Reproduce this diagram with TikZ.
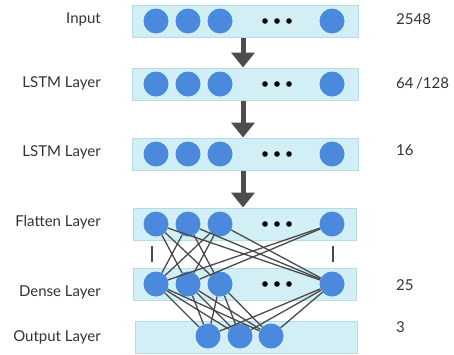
\documentclass[tikz,border=0pt]{standalone}
\usepackage{fontspec}
\setmainfont{Lato}
\usetikzlibrary{arrows.meta}
\definecolor{barfill}{HTML}{D2EFF5}
\definecolor{barline}{HTML}{B6DCE8}
\definecolor{unit}{HTML}{4A89DC}
\definecolor{flow}{HTML}{4D4D4D}
\definecolor{wire}{HTML}{4A4A4A}
\tikzset{
  bar/.style={rectangle, fill=barfill, draw=barline, line width=1pt,
    minimum height=32pt, inner sep=0pt},
  neuron/.style={circle, fill=unit, minimum size=25pt, inner sep=0pt},
  dot/.style={circle, fill=black, minimum size=5.6pt, inner sep=0pt},
  lname/.style={anchor=east, inner sep=0pt, font=\fontsize{15}{17}\selectfont, text=black!80},
  rname/.style={anchor=west, inner sep=0pt, font=\fontsize{15}{17}\selectfont, text=black!80},
  flowarrow/.style={draw=flow, line width=5pt,
    -{Triangle[width=23pt,length=15pt]}},
  wirestyle/.style={draw=wire, line width=1.3pt},
  tick/.style={draw=wire, line width=2pt}
}
\begin{document}
\begin{tikzpicture}[x=1pt, y=-1pt]
\useasboundingbox (0,0) rectangle (454,354);

% layer bars
\node[bar, minimum width=226pt] (bar1) at (245,21) {};
\node[bar, minimum width=226pt] (bar2) at (245,84) {};
\node[bar, minimum width=226pt] (bar3) at (245,154) {};
\node[bar, minimum width=223pt] (bar4) at (244.5,224) {};
\node[bar, minimum width=223pt] (bar5) at (244.5,284) {};
\node[bar, minimum width=222pt] (bar6) at (246,337) {};

% neurons and ellipsis dots of the five wide layers
\foreach \l/\y in {a/21, b/84, c/154, f/224, d/284} {
  \node[neuron] (\l1) at (156,\y) {};
  \node[neuron] (\l2) at (188,\y) {};
  \node[neuron] (\l3) at (220,\y) {};
  \node[neuron] (\l4) at (332,\y) {};
  \node[dot] (\l dot1) at (265,\y) {};
  \node[dot] (\l dot2) at (277,\y) {};
  \node[dot] (\l dot3) at (289,\y) {};
}

% output neurons
\node[neuron] (o1) at (208,336) {};
\node[neuron] (o2) at (240,336) {};
\node[neuron] (o3) at (271,336) {};

% flow arrows between stacked layers
\coordinate (axis) at (243,0);
\draw[flowarrow] (bar1.south -| axis) -- (bar2.north -| axis);
\draw[flowarrow] (bar2.south -| axis) -- (bar3.north -| axis);
\draw[flowarrow] (bar3.south -| axis) -- (bar4.north -| axis);

% flatten -> dense connections
\foreach \s/\t in {f1/d2, f1/d3, f1/d4, f2/d1, f2/d3, f2/d4, f3/d1, f3/d2, f3/d4, f4/d1, f4/d2}
  \draw[wirestyle] (\s) -- (\t);

% dense -> output connections
\foreach \s in {d1, d2, d3, d4}
  \foreach \t in {o1, o2, o3}
    \draw[wirestyle] (\s) -- (\t);

% small ticks beside the connection block
\coordinate (t1a) at (152,246);
\coordinate (t1b) at (152,262);
\coordinate (t2a) at (333,246);
\coordinate (t2b) at (333,262);
\draw[tick] (t1a) -- (t1b);
\draw[tick] (t2a) -- (t2b);

% layer names
\node[lname] (n1) at (101,19) {Input};
\node[lname] (n2) at (101,83) {LSTM Layer};
\node[lname] (n3) at (101,152) {LSTM Layer};
\node[lname] (n4) at (101,222) {Flatten Layer};
\node[lname] (n5) at (101,292) {Dense Layer};
\node[lname] (n6) at (101,337) {Output Layer};

% layer sizes
\node[rname] (s1) at (396,19) {2548};
\node[rname] (s2) at (396,83) {64\,/128};
\node[rname] (s3) at (396,150) {16};
\node[rname] (s5) at (396,285) {25};
\node[rname] (s6) at (396,327) {3};
\end{tikzpicture}
\end{document}
